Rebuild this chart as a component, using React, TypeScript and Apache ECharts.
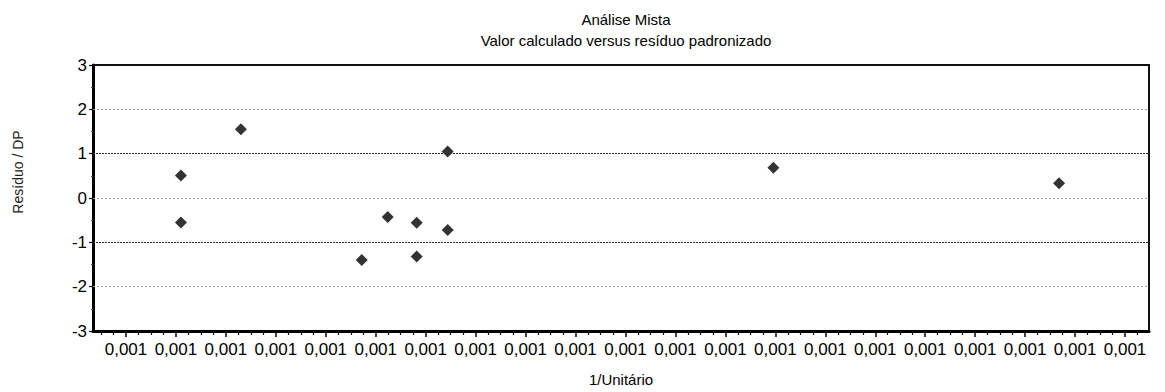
import React, { useEffect, useRef } from "react";
import * as echarts from "echarts";

// Data (x = 1/Unitário, y = Resíduo / DP)
const pointX = [
  0.0010011, 0.0010011, 0.0010023, 0.00100472, 0.00100524, 0.00100582,
  0.00100582, 0.00100644, 0.00100644, 0.00101296, 0.00101868,
];
const pointY = [0.51, -0.55, 1.55, -1.4, -0.43, -0.56, -1.32, 1.05, -0.72, 0.68, 0.33];

// Major ticks of the x axis (all print as "0,001")
const xMajorTicks = [
  0.001, 0.001001, 0.001002, 0.001003, 0.001004, 0.001005, 0.001006,
  0.001007, 0.001008, 0.001009, 0.00101, 0.001011, 0.001012, 0.001013,
  0.001014, 0.001015, 0.001016, 0.001017, 0.001018, 0.001019, 0.00102,
];
const xMin = 0.00099934;
const xMax = 0.00102048;

// Reference lines
const refLinesDark = [-1, 1];
const refLinesLight = [-2, 0, 2];

const titleText = "Análise Mista";
const subtitleText = "Valor calculado versus resíduo padronizado";
const xName = "1/Unitário";
const yName = "Resíduo / DP";

const FONT = "Liberation Sans, Arial, sans-serif";

export default function App() {
  const ref = useRef<HTMLDivElement>(null);

  useEffect(() => {
    if (!ref.current) return;
    const chart = echarts.init(ref.current, null, { renderer: "svg" });

    const step = 1e-6;
    const minorTicks: number[] = [];
    for (let i = -2; i <= 20 * 4 + 1; i++) {
      if (i % 4 === 0) continue;
      minorTicks.push(0.001 + (i / 4) * step);
    }

    const fmt = (v: number) => v.toFixed(3).replace(".", ",");

    const markData: any[] = [
      ...refLinesDark.map((v) => ({
        yAxis: v,
        lineStyle: { color: "#2a2a2a", type: [2, 1], width: 1.2 },
      })),
      ...refLinesLight.map((v) => ({
        yAxis: v,
        lineStyle: { color: "#9a9a9a", type: [2, 2], width: 1 },
      })),
    ];

    chart.setOption({
      animation: false,
      backgroundColor: "#ffffff",
      textStyle: { fontFamily: FONT },
      title: {
        text: titleText,
        subtext: subtitleText,
        left: 621,
        top: 7,
        textAlign: "center",
        itemGap: 6,
        textStyle: { fontFamily: FONT, fontSize: 15, fontWeight: "normal", color: "#000" },
        subtextStyle: { fontFamily: FONT, fontSize: 15, color: "#000" },
      },
      grid: {
        left: 93,
        right: 16,
        top: 65,
        bottom: 52,
        show: true,
        borderColor: "#111",
        borderWidth: 2,
        containLabel: false,
      },
      xAxis: [
        {
          type: "value",
          min: xMin,
          max: xMax,
          name: xName,
          nameLocation: "middle",
          nameGap: 41,
          nameTextStyle: { fontFamily: FONT, fontSize: 15, color: "#000" },
          axisLine: { show: true, onZero: false, lineStyle: { color: "#000", width: 3 } },
          axisTick: {
            show: true,
            customValues: xMajorTicks,
            length: 6,
            lineStyle: { color: "#000", width: 1.5 },
          },
          axisLabel: {
            customValues: xMajorTicks,
            formatter: fmt,
            fontFamily: FONT,
            fontSize: 17,
            color: "#000",
            margin: 10,
          },
          splitLine: { show: false },
        },
        {
          type: "value",
          min: xMin,
          max: xMax,
          position: "bottom",
          axisLine: { show: false, onZero: false },
          axisTick: {
            show: true,
            customValues: minorTicks,
            length: 4,
            lineStyle: { color: "#111", width: 1.2 },
          },
          axisLabel: { show: false },
          splitLine: { show: false },
        },
      ],
      yAxis: {
        type: "value",
        min: -3,
        max: 3,
        interval: 1,
        axisLine: { show: true, onZero: false, lineStyle: { color: "#000", width: 3 } },
        axisTick: { show: true, length: 4, lineStyle: { color: "#000", width: 1.2 } },
        minorTick: { show: true, splitNumber: 2, length: 2, lineStyle: { color: "#444" } },
        axisLabel: { fontFamily: FONT, fontSize: 17, color: "#000", margin: 6 },
        splitLine: { show: false },
      },
      graphic: [
        {
          type: "text",
          x: 18,
          y: 172,
          rotation: Math.PI / 2,
          style: {
            text: yName,
            fontFamily: FONT,
            fontSize: 14,
            fill: "#222",
            align: "center",
            verticalAlign: "middle",
          },
        },
      ],
      series: [
        {
          type: "scatter",
          xAxisIndex: 0,
          symbol: "diamond",
          symbolSize: 12,
          itemStyle: { color: "#000" },
          data: pointX.map((x, i) => [x, pointY[i]]),
          markLine: {
            silent: true,
            symbol: "none",
            label: { show: false },
            data: markData,
          },
        },
      ],
    });

    return () => chart.dispose();
  }, []);

  return (
    <div
      ref={ref}
      style={{ position: "absolute", left: 0, top: 0, width: 1165, height: 392 }}
    />
  );
}
